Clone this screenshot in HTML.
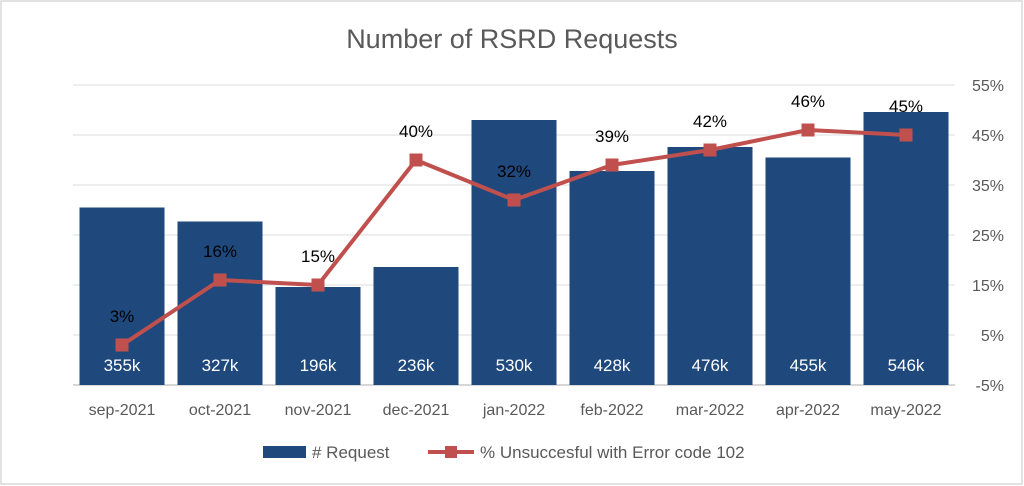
<!DOCTYPE html>
<html><head><meta charset="utf-8"><style>
html,body{margin:0;padding:0;background:#fff;}
svg{display:block;font-family:"Liberation Sans",sans-serif;}
</style></head><body>
<svg id="c" width="1024" height="486" viewBox="0 0 1024 486">
<rect x="1" y="1" width="1021" height="483" fill="#fff" stroke="#d9d9d9" stroke-width="1.5"/>
<text x="512" y="48" text-anchor="middle" font-size="27" fill="#595959">Number of RSRD Requests</text>
<g id="grid"></g><g id="bars"></g><g id="line"></g><g id="labels"></g>
<g>
<rect x="263" y="446" width="43" height="12" fill="#1f497d"/>
<text x="312" y="458" font-size="17" fill="#595959"># Request</text>
<line x1="428" y1="452" x2="474" y2="452" stroke="#c0504d" stroke-width="4"/>
<rect x="445" y="446" width="12" height="12" fill="#c0504d"/>
<text x="480" y="458" font-size="17" fill="#595959">% Unsuccesful with Error code 102</text>
</g>
</svg>
<script>
const categories=["sep-2021","oct-2021","nov-2021","dec-2021","jan-2022","feb-2022","mar-2022","apr-2022","may-2022"];
const requests=[355,327,196,236,530,428,476,455,546];
const errorPct=[3,16,15,40,32,39,42,46,45];
const pctTicks=[-5,5,15,25,35,45,55];
const NS="http://www.w3.org/2000/svg";
const L=73,R=955,T=85,B=385;
const step=(R-L)/categories.length;
const xc=i=>L+step*(i+0.5);
const yBar=v=>B-v/600*(B-T);
const yPct=p=>B-(p+5)/60*(B-T);
function mk(tag,attrs,parent){const e=document.createElementNS(NS,tag);for(const k in attrs)e.setAttribute(k,attrs[k]);parent.appendChild(e);return e;}
const grid=document.getElementById('grid'),bars=document.getElementById('bars'),line=document.getElementById('line'),labels=document.getElementById('labels');
pctTicks.forEach(p=>{
 const y=yPct(p);
 const g=mk('line',{x1:L,x2:R,y1:y,y2:y,stroke:p===-5?'#bfbfbf':'#e3e3e3','stroke-width':1.3},grid);
 
 
 const t=mk('text',{x:1004,y:y+6,'text-anchor':'end','font-size':16,fill:'#595959'},grid);
 t.textContent=p+'%';
 
 
});
const bw=85;
categories.forEach((c,i)=>{
 const x=xc(i);
 const r=mk('rect',{x:x-bw/2,y:yBar(requests[i]),width:bw,height:B-yBar(requests[i]),fill:'#1f497d'},bars);
 
 
 const t=mk('text',{x:x,y:371,'text-anchor':'middle','font-size':17,fill:'#fff'},labels);
 t.textContent=requests[i]+'k';
 
 
 const a=mk('text',{x:x,y:415,'text-anchor':'middle','font-size':16,fill:'#595959'},labels);
 a.textContent=c;
 
 
});
const pts=errorPct.map((p,i)=>xc(i)+','+yPct(p)).join(' ');
const pl=mk('polyline',{points:pts,fill:'none',stroke:'#c0504d','stroke-width':4,'stroke-linejoin':'round'},line);


errorPct.forEach((p,i)=>{
 const m=mk('rect',{x:xc(i)-6.5,y:yPct(p)-6.5,width:13,height:13,fill:'#c0504d'},line);
 
 
 const t=mk('text',{x:xc(i),y:yPct(p)-23,'text-anchor':'middle','font-size':17,fill:'#000'},labels);
 t.textContent=p+'%';
 
 
});
</script>
</body></html>
